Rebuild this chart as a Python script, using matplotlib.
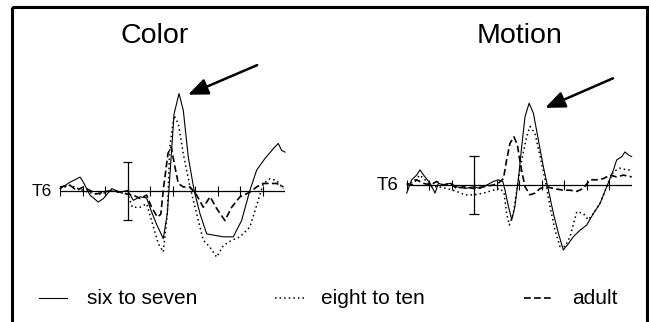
import matplotlib.pyplot as plt
from matplotlib.patches import Rectangle

plt.rcParams['font.family'] = ['Liberation Sans', 'DejaVu Sans']

# ERP at T6, time in ms, amplitude in microvolts (scale bar = +/-5)
ticks = [-300, -200, -100, 0, 100, 200, 300, 400, 500, 600, 700]

color_t_six = [-300, -256, -211, -196, -167, -130, -107, -70, -33, 0, 26, 56, 85, 107,
               130, 159, 177, 192, 207, 229, 248, 270, 296, 322, 352, 381, 426, 470,
               507, 544, 574, 611, 648, 670, 685, 700]
color_v_six = [0.4, 1.5, 2.4, 1.5, -0.7, -1.9, -1.3, 0.4, -0.2, 0.1, -1.6, -1.0, -1.2,
               -3.6, -5.8, -8.2, -3.9, 4.7, 13.3, 16.8, 13.9, 5.9, 0.1, -3.9, -7.4,
               -7.6, -7.9, -7.9, -5.1, 0.1, 3.6, 5.6, 7.3, 8.2, 7.0, 6.7]

color_t_eight = [-300, -256, -211, -167, -130, -70, -33, 0, 22, 56, 85, 107, 137, 159,
                 177, 188, 207, 226, 248, 278, 307, 337, 367, 396, 426, 463, 500, 544,
                 581, 604, 633, 663, 693]
color_v_eight = [0.4, 1.0, 0.3, -0.3, -0.6, 0.0, -0.3, -0.5, -2.8, -2.8, -2.2, -5.1,
                 -9.1, -10.5, -3.9, 7.6, 13.0, 11.6, 6.4, 0.7, -3.9, -8.5, -9.7, -11.4,
                 -9.4, -8.5, -7.9, -6.2, -1.6, 1.3, 2.1, 1.8, 0.4]

color_t_adult = [-300, -256, -226, -196, -167, -137, -107, -70, -33, -4, 26, 56, 85, 107,
                 133, 148, 160, 180, 194, 211, 226, 248, 278, 307, 337, 367, 396, 433,
                 463, 500, 544, 574, 604, 633, 663, 693]
color_v_adult = [0.7, 1.0, 0.1, 0.7, 0.1, -0.5, -0.2, 0.1, -0.2, -0.5, -0.7, -1.3, -0.7,
                 -2.8, -4.5, -4.0, 0.5, 6.5, 7.6, 4.1, 1.3, 0.7, 0.7, -0.7, -2.8, -1.0,
                 -3.0, -5.1, -2.8, -1.0, -0.2, 0.7, 1.3, 1.3, 1.3, 0.7]

motion_t_six = [-300, -278, -256, -241, -219, -196, -174, -159, -137, -107, -78, -41, -1,
                26, 56, 85, 107, 127, 137, 152, 167, 181, 196, 211, 226, 244, 263, 285,
                307, 330, 352, 374, 396, 419, 441, 470, 500, 530, 559, 589, 619, 633,
                656, 670, 685, 700]
motion_v_six = [-1.4, 0.9, 1.7, 2.6, 1.4, 0.3, -1.4, 0.3, 0.0, 0.3, -0.3, -0.6, -0.3,
                -0.6, 0.0, 0.6, 0.9, 0.6, -0.9, -3.7, -6.0, -3.7, 0.9, 6.6, 11.8, 14.1,
                12.4, 7.8, 3.2, -0.9, -4.9, -8.3, -11.2, -10.1, -8.9, -7.8, -6.9, -4.9,
                -3.2, -0.3, 2.6, 4.3, 4.9, 5.7, 5.2, 4.9]

motion_t_eight = [-300, -270, -241, -219, -189, -159, -122, -78, -41, -1, 41, 85, 115,
                  133, 144, 156, 174, 189, 211, 233, 248, 270, 293, 315, 337, 359, 381,
                  404, 426, 456, 485, 507, 530, 559, 589, 619, 648, 678, 700]
motion_v_eight = [0.0, 0.6, 1.7, 0.9, -0.3, -0.3, -0.6, -1.1, -1.7, -1.7, -1.4, -0.9,
                  -0.6, -1.4, -4.9, -6.9, -4.9, -0.9, 4.3, 8.3, 10.1, 8.9, 4.9, 0.9,
                  -3.7, -7.8, -10.6, -10.6, -8.9, -4.6, -4.9, -6.0, -4.9, -3.2, -0.3,
                  2.3, 2.9, 2.6, 2.6]

motion_t_adult = [-300, -278, -256, -226, -196, -167, -137, -107, -78, -48, -1, 41, 85,
                  107, 130, 144, 159, 177, 192, 207, 226, 248, 270, 293, 322, 352, 396,
                  426, 456, 485, 515, 544, 574, 604, 633, 663, 700]
motion_v_adult = [0.3, 0.0, 0.9, 0.3, 0.0, 0.6, 0.0, 0.3, -0.6, -0.3, -0.6, -0.3, 0.0,
                  0.3, 1.1, 4.3, 7.2, 8.3, 6.9, 3.2, -0.3, -1.7, -1.4, -0.6, -0.3, -0.6,
                  -0.9, -0.9, -1.1, -0.6, 0.9, 0.9, 1.1, 1.7, 1.4, 1.7, 1.4]

groups = ['six to seven', 'eight to ten', 'adult']
styles = ['-', (0, (1, 2)), (0, (4, 2))]
widths = [0.8, 1.1, 1.2]

W, H = 649, 322
PX = 5.8
YLIM = (-14, 19)

fig = plt.figure(figsize=(6.49, 3.22), dpi=100)
bg = fig.add_axes([0, 0, 1, 1])
bg.set_xlim(0, W)
bg.set_ylim(H, 0)
bg.axis('off')
bg.add_patch(Rectangle((12, 7), 635, 330, fill=False, lw=2.2, ec='black', clip_on=False))


def panel(x0, x1, y0):
    top = y0 - YLIM[1] * PX
    bottom = y0 - YLIM[0] * PX
    ax = fig.add_axes([x0 / W, (H - bottom) / H, (x1 - x0) / W, (bottom - top) / H])
    ax.set_xlim(ticks[0], ticks[-1])
    ax.set_ylim(*YLIM)
    ax.axis('off')
    ax.plot([ticks[0], ticks[-1]], [0, 0], color='black', lw=0.9)
    ax.vlines(ticks, -0.9, 0.9, color='black', lw=0.8)
    ax.vlines(0, -5, 5, color='black', lw=0.9)
    ax.hlines([-5, 5], -22, 22, color='black', lw=0.9)
    return ax


panels = [
    (panel(60, 285, 191),
     [(color_t_six, color_v_six), (color_t_eight, color_v_eight), (color_t_adult, color_v_adult)],
     (269, 16.6), (576, 21.7)),
    (panel(406.7, 631.7, 185),
     [(motion_t_six, motion_v_six), (motion_t_eight, motion_v_eight), (motion_t_adult, motion_v_adult)],
     (315, 13.3), (617, 18.4)),
]

for ax, series, tip, tail in panels:
    for (t, v), ls, lw in zip(series, styles, widths):
        ax.plot(t, v, color='black', ls=ls, lw=lw, clip_on=False)
    ax.annotate('', xy=tip, xytext=tail, annotation_clip=False,
                arrowprops=dict(arrowstyle='-|>,head_length=0.6,head_width=0.25',
                                mutation_scale=20, lw=1.8, color='black',
                                shrinkA=0, shrinkB=0))

bg.text(155, 43, 'Color', fontsize=20.5, ha='center', va='baseline')
bg.text(520, 43, 'Motion', fontsize=20.5, ha='center', va='baseline')
bg.text(32, 191, 'T6', fontsize=12.5, ha='left', va='center')
bg.text(377, 185, 'T6', fontsize=13.5, ha='left', va='center')

# legend
leg_x = [(39, 67), (275, 304), (524, 551)]
txt_x = [87, 321, 572]
for (a, b), tx, name, ls, lw in zip(leg_x, txt_x, groups, styles, widths):
    bg.plot([a, b], [298, 298], color='black', ls=ls, lw=lw)
    bg.text(tx, 298, name, fontsize=15, ha='left', va='center')

fig.savefig('out.png', dpi=100)
